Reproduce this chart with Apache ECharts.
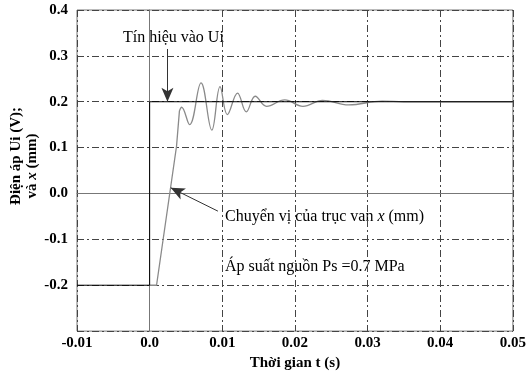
<!DOCTYPE html>
<html>
<head>
<meta charset="utf-8">
<script src="https://cdn.jsdelivr.net/npm/echarts@6/dist/echarts.min.js"></script>
<style>
html,body{margin:0;padding:0;background:#fff;}
#chart{width:529px;height:376px;}
</style>
</head>
<body>
<div id="chart"></div>
<script>
// tín hiệu vào Ui (step)
var uiT=[-0.01,0,0,0.05];
var uiV=[-0.2,-0.2,0.2,0.2];
// chuyển vị trục van x : đoạn tăng thẳng
var rampT=[0,0.00095,0.0037,0.0041];
var rampV=[-0.2,-0.2,0.103,0.18];
// chuyển vị trục van x : dao động
var oscT=[0.0041,0.0044,0.0055,0.00707,0.00856,0.00969,0.0107,0.0121,0.0133,0.01454,0.0161,0.0186,0.0211,0.0238,0.0274,0.032,0.035,0.05];
var oscV=[0.18,0.188,0.150,0.241,0.138,0.233,0.172,0.219,0.178,0.212,0.190,0.204,0.190,0.203,0.193,0.2015,0.2,0.2];
// arrows, in data units
var arrowUi=[[0.00245,0.315],[0.00245,0.2]];
var arrowX=[[0.0094,-0.0385],[0.0029,0.0124]];

var font='Liberation Serif';
var gridLine={show:true,lineStyle:{color:'#444',width:1,type:[7,3,2,3]}};

function pairs(a,b){
  var out=[];
  a.forEach(function(v,i){out.push([v,b[i]]);});
  return out;
}
function arrow(p){
  return [{coord:p[0],symbol:'none'},{coord:p[1],symbol:'arrow'}];
}

var myChart=echarts.init(document.getElementById('chart'));
var option={
  animation:false,
  backgroundColor:'#fff',
  grid:{left:77,right:11,top:10,bottom:44,show:true,borderColor:'#777',borderWidth:1},
  xAxis:{
    type:'value',min:-0.01,max:0.05,interval:0.01,
    axisLine:{lineStyle:{color:'#777'}},
    axisTick:{show:false},
    splitLine:gridLine,
    axisLabel:{color:'#000',fontFamily:font,fontWeight:'bold',fontSize:15,margin:5,
      formatter:function(v){v=Math.round(v*1000)/1000;return v===0?'0.0':v.toFixed(2);}},
    name:'Thời gian t (s)',nameLocation:'middle',nameGap:24,
    nameTextStyle:{color:'#000',fontFamily:font,fontWeight:'bold',fontSize:15,verticalAlign:'top'}
  },
  yAxis:{
    type:'value',min:-0.3,max:0.4,interval:0.1,
    axisLine:{lineStyle:{color:'#777'}},
    axisTick:{show:false},
    splitLine:gridLine,
    axisLabel:{color:'#000',fontFamily:font,fontWeight:'bold',fontSize:15,margin:9,
      formatter:function(v){v=Math.round(v*10)/10;return v<-0.25?'':v.toFixed(1);}}
  },
  graphic:[
    {type:'text',x:16,y:156,rotation:Math.PI/2,
      style:{text:'Điện áp Ui (V);',align:'center',verticalAlign:'middle',
        font:'bold 15px "Liberation Serif"',fill:'#000'}},
    {type:'text',x:32,y:166,rotation:Math.PI/2,
      style:{text:'và {it|x} (mm)',align:'center',verticalAlign:'middle',
        font:'bold 15px "Liberation Serif"',fill:'#000',
        rich:{it:{font:'italic bold 15px "Liberation Serif"'}}}},
    {type:'text',x:123,y:38,
      style:{text:'Tín hiệu vào Ui',font:'16px "Liberation Serif"',fill:'#000',verticalAlign:'middle'}},
    {type:'text',x:225,y:217,
      style:{text:'Chuyển vị của trục van {it|x} (mm)',font:'16px "Liberation Serif"',fill:'#000',verticalAlign:'middle',
        rich:{it:{font:'italic 16px "Liberation Serif"'}}}},
    {type:'text',x:225,y:267,
      style:{text:'Áp suất nguồn Ps =0.7 MPa',font:'16px "Liberation Serif"',fill:'#000',verticalAlign:'middle'}}
  ],
  series:[
    {
      name:'Ui',type:'line',data:pairs(uiT,uiV),showSymbol:false,
      lineStyle:{color:'#000',width:1},z:3,
      markLine:{silent:true,symbolSize:[9,14],label:{show:false},
        lineStyle:{color:'#333',width:1,type:'solid'},
        data:[arrow(arrowUi),arrow(arrowX)]}
    },
    {
      name:'x',type:'line',data:pairs(rampT,rampV),showSymbol:false,
      lineStyle:{color:'#8a8a8a',width:1.3},z:2
    },
    {
      name:'x dao động',type:'line',data:pairs(oscT,oscV),showSymbol:false,smooth:0.4,
      lineStyle:{color:'#8a8a8a',width:1.3},z:2
    }
  ]
};
myChart.setOption(option);
</script>
</body>
</html>
